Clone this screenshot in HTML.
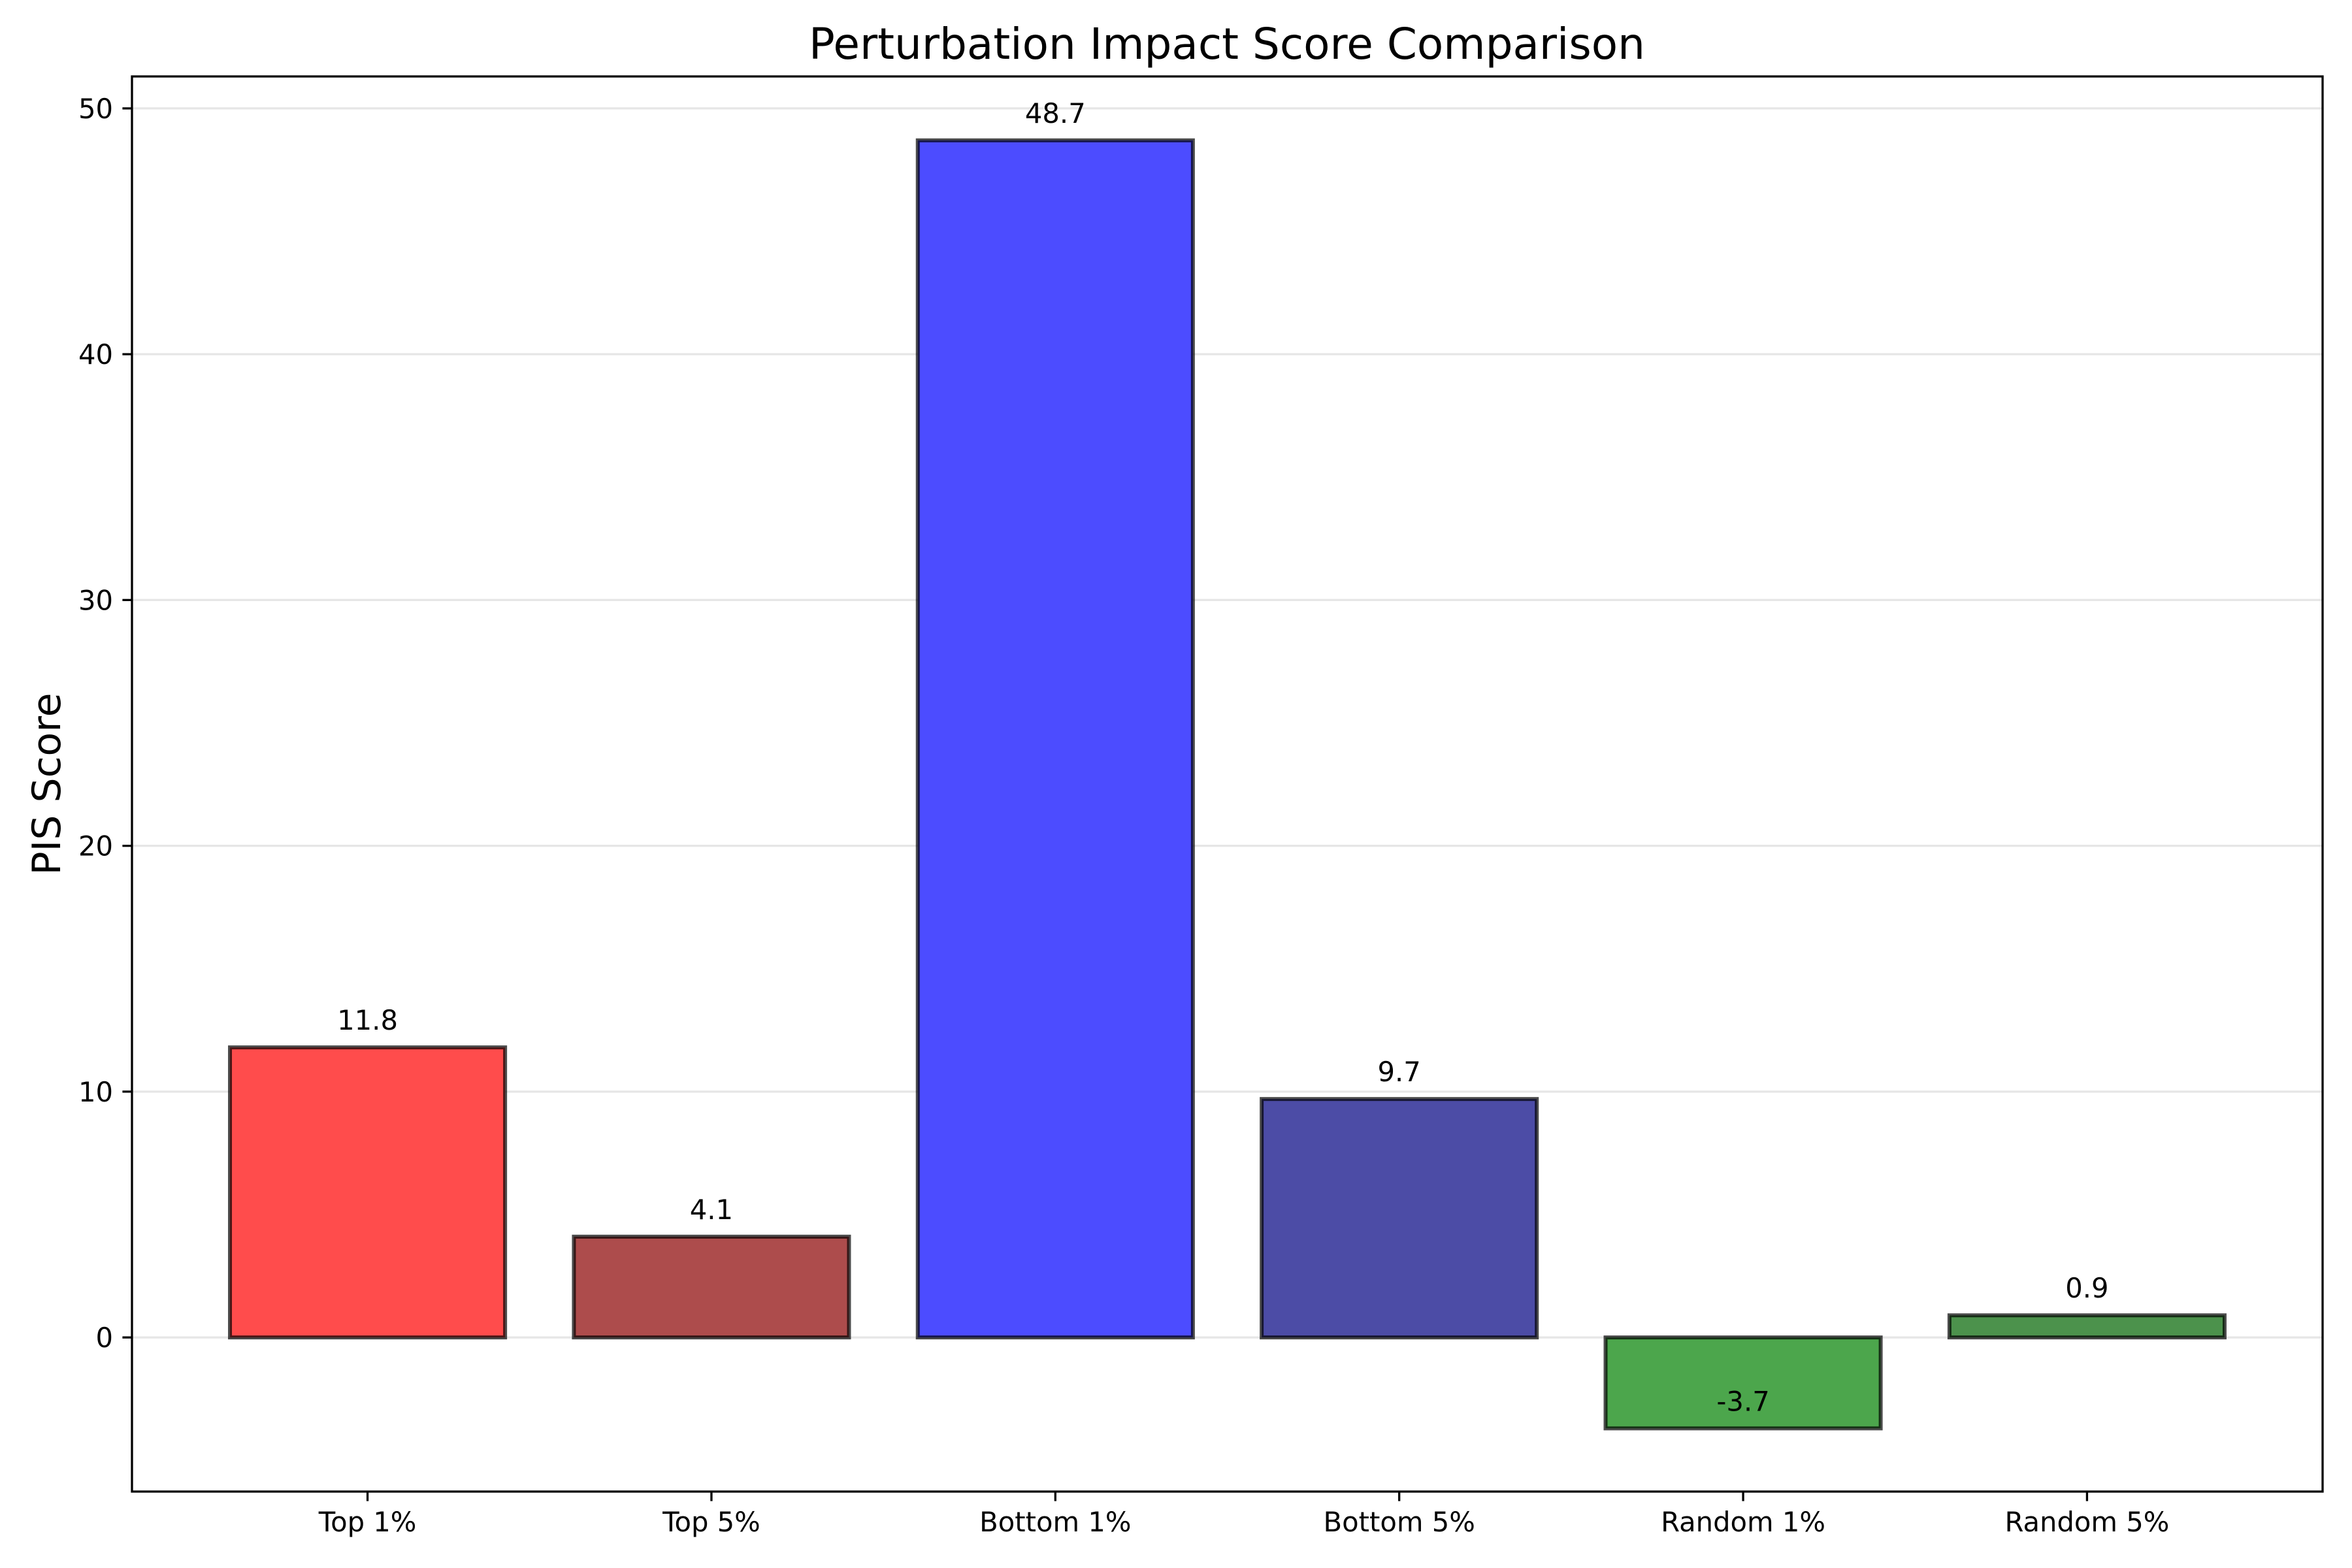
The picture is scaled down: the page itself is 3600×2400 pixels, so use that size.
<!DOCTYPE html>
<html><head><meta charset="utf-8"><style>
html,body{margin:0;padding:0;background:#fff;}
svg{display:block;}
text{font-family:"DejaVu Sans","Liberation Sans",sans-serif;}
</style></head><body>
<svg id="chart" width="3600" height="2400" viewBox="0 0 3600 2400" xmlns="http://www.w3.org/2000/svg">
<rect width="3600" height="2400" fill="#fff"/>
<text x="1878" y="90" font-size="66" text-anchor="middle">Perturbation Impact Score Comparison</text>
<text transform="translate(92,1200) rotate(-90)" font-size="60" text-anchor="middle">PIS Score</text>
<g id="grid"></g>
<g id="bars"></g>
<g id="axes"></g>
</svg>
<script>
const categories = ["Top 1%", "Top 5%", "Bottom 1%", "Bottom 5%", "Random 1%", "Random 5%"];
const values = [11.8, 4.1, 48.7, 9.7, -3.7, 0.9];
const valueLabels = ["11.8", "4.1", "48.7", "9.7", "-3.7", "0.9"];
const barColors = ["#ff4c4c", "#ad4c4c", "#4c4cff", "#4c4ca6", "#4ca64c", "#4c924c"];
const yTicks = [0, 10, 20, 30, 40, 50];

const L = 202, R = 3555, T = 117, B = 2283;
const xMin = -0.685, xMax = 5.685, yMin = -6.27, yMax = 51.3;
const xs = v => L + (v - xMin) / (xMax - xMin) * (R - L);
const ys = v => B - (v - yMin) / (yMax - yMin) * (B - T);
const NS = "http://www.w3.org/2000/svg";
function mk(tag, attrs, parent) {
  const e = document.createElementNS(NS, tag);
  for (const k in attrs) e.setAttribute(k, attrs[k]);
  parent.appendChild(e);
  return e;
}
const grid = document.getElementById('grid');
const bars = document.getElementById('bars');
const axes = document.getElementById('axes');

yTicks.forEach((t, i) => {
  const gl = mk('line', {x1: L, x2: R, y1: ys(t), y2: ys(t), stroke: '#e6e6e6', 'stroke-width': 3.3}, grid);
  
  
  const tk = mk('line', {x1: L - 14.6, x2: L, y1: ys(t), y2: ys(t), stroke: '#000', 'stroke-width': 3.3}, axes);
  
  
  const tl = mk('text', {x: L - 29, y: ys(t) + 15, 'font-size': 41.7, 'text-anchor': 'end'}, axes);
  tl.textContent = String(t);
  
  
});

categories.forEach((c, i) => {
  const cx = xs(i), w = xs(0.4) - xs(-0.4);
  const y0 = ys(0), y1 = ys(values[i]);
  const r = mk('rect', {x: cx - w / 2, y: Math.min(y0, y1), width: w, height: Math.abs(y1 - y0),
    fill: barColors[i], stroke: 'rgba(0,0,0,0.7)', 'stroke-width': 6}, bars);
  
  
  const vl = mk('text', {x: cx, y: y1 - 27, 'font-size': 41.7, 'text-anchor': 'middle'}, bars);
  vl.textContent = valueLabels[i];
  
  
  const tk = mk('line', {x1: cx, x2: cx, y1: B, y2: B + 14.6, stroke: '#000', 'stroke-width': 3.3}, axes);
  
  
  const tl = mk('text', {x: cx, y: B + 61, 'font-size': 41.7, 'text-anchor': 'middle'}, axes);
  tl.textContent = c;
  
  
});

const frame = mk('rect', {x: L, y: T, width: R - L, height: B - T, fill: 'none', stroke: '#000', 'stroke-width': 3.3}, axes);


</script>
</body></html>
